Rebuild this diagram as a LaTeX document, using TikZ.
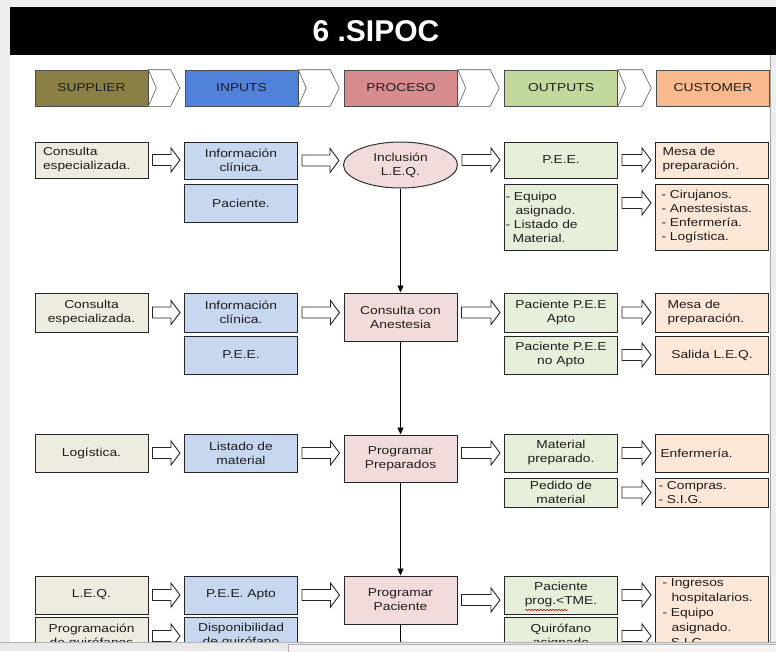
\documentclass[tikz,border=0pt]{standalone}
\usepackage{fontspec}
\newfontfamily\boxfont{Liberation Sans}[FakeStretch=1.2]
\newfontfamily\titlefont{Liberation Sans}
\usepackage{tikz}
\usetikzlibrary{positioning,arrows.meta,calc,shapes.geometric,decorations.pathmorphing}
\definecolor{pagegrey}{HTML}{EEEEEE}
\definecolor{inkgrey}{HTML}{1E1E1E}
\definecolor{hdrsup}{HTML}{8A7F45}
\definecolor{hdrinp}{HTML}{4F82D8}
\definecolor{hdrpro}{HTML}{D68C8C}
\definecolor{hdrout}{HTML}{C3D89B}
\definecolor{hdrcus}{HTML}{F8BA8C}
\definecolor{supfill}{HTML}{EEEBE0}
\definecolor{inpfill}{HTML}{C6D7EF}
\definecolor{procfill}{HTML}{F2DCDB}
\definecolor{outfill}{HTML}{E6EFDA}
\definecolor{custfill}{HTML}{FDE8D8}

\begin{document}
\begin{tikzpicture}[
    x=1pt, y=-1pt,
    box/.style={
      draw=black!85, line width=1pt, minimum width=113pt, inner sep=2pt,
      align=center, text=inkgrey, font=\boxfont\fontsize{11.5}{14}\selectfont
    },
    sup/.style={box, fill=supfill},
    inp/.style={box, fill=inpfill},
    proc/.style={box, fill=procfill},
    outp/.style={box, fill=outfill},
    cust/.style={box, fill=custfill},
    lft/.style={text width=#1, align=left},
    lft/.default=99pt,
    procell/.style={ellipse, draw=black!80, line width=1pt, fill=procfill, inner sep=0pt,
      minimum width=114pt, minimum height=46pt, align=center, text=inkgrey,
      font=\boxfont\fontsize{11.5}{14}\selectfont},
    hdr/.style={draw=black!70, line width=0.6pt, minimum width=113pt, minimum height=36pt,
      text=inkgrey, font=\boxfont\fontsize{11.5}{14}\selectfont},
    chev/.style={fill=white, draw=black!65, line width=0.6pt, line join=miter},
    blk/.style={fill=white, draw=black!85, line width=0.9pt, line join=miter,
      to path={let \p1=(\tikztostart), \p2=(\tikztotarget) in
        (\x1+4pt,\y1+5.5pt) -- (\x2-13pt,\y1+5.5pt) -- (\x2-13pt,\y1+12pt) -- (\x2-4pt,\y1)
        -- (\x2-13pt,\y1-12pt) -- (\x2-13pt,\y1-5.5pt) -- (\x1+4pt,\y1-5.5pt) -- cycle}},
    flow/.style={-{Triangle[length=7pt,width=6pt]}, line width=0.9pt, black},
    title/.style={text=white, font=\titlefont\bfseries\fontsize{30}{30}\selectfont}
  ]

  \useasboundingbox (0,0) rectangle (776,651);
  \fill[pagegrey] (0,0) rectangle (776,651);
  \fill[white] (10,7) rectangle (770,642);
  \draw[black!35, line width=0.6pt] (770.5,7) -- (770.5,642);

  % ---------- bandeau titre -------------
  \fill[black] (10,7) rectangle (776,55);
  \node[title] (ttl) at (376,31) {6 .SIPOC};

  % ---------- en-tetes S I P O C -------------
  \node[hdr, fill=hdrsup] (hsup) at (91.5,88) {SUPPLIER};
  \node[hdr, fill=hdrinp] (hinp) at (241.5,88) {INPUTS};
  \node[hdr, fill=hdrpro] (hpro) at (401,88) {PROCESO};
  \node[hdr, fill=hdrout] (hout) at (561,88) {OUTPUTS};
  \node[hdr, fill=hdrcus] (hcus) at (713,88) {CUSTOMER};
  \foreach \a/\b in {hsup/hinp, hinp/hpro, hpro/hout, hout/hcus}
    \draw[chev] let \p1=(\a.north east), \p2=(\b.south west), \p3=(\a.east) in
      (\x1,\y1) -- (\x2-14pt,\y1) -- (\x2-5pt,\y3) -- (\x2-14pt,\y2) -- (\x1,\y2)
      -- (\x1+8pt,\y3) -- cycle;

  \begin{scope}
    \clip (10,56) rectangle (770,642);

    % ---------- fila 1 : inclusion L.E.Q. -------------
    \node[sup, lft=97pt, minimum height=36pt] (s1) at (91.5,160) {Consulta\\especializada.};
    \node[inp, minimum height=37pt] (i1a) at (241,160.5) {Información\\clínica.};
    \node[inp, minimum height=38pt] (i1b) at (241,203) {Paciente.};
    \node[procell] (p1) at (400.5,165) {Inclusión\\L.E.Q.};
    \node[outp, minimum height=36pt] (o1a) at (561,160) {P.E.E.};
    \node[outp, lft=111pt, inner xsep=1pt, minimum height=66pt] (o1b) at (561,217)
      {- Equipo\\\hspace*{10pt}asignado.\\- Listado de\\\hspace*{7pt}Material.};
    \node[cust, lft=99pt, minimum height=36pt] (c1a) at (712,160) {Mesa de\\preparación.};
    \node[cust, lft=101pt, minimum height=66pt] (c1b) at (712,217)
      {- Cirujanos.\\- Anestesistas.\\- Enfermería.\\- Logística.};
    \draw[blk] (s1.east) to (i1a.west);
    \draw[blk] (i1a.east) to (p1.west);
    \draw[blk] (p1.east |- o1a.west) to (o1a.west);
    \draw[blk] (o1a.east) to (c1a.west);
    \draw[blk] ([yshift=14pt]o1b.east) to (c1b.west);

    % ---------- fila 2 : consulta con anestesia -------------
    \node[sup, minimum height=39pt] (s2) at (91.5,312.5) {Consulta\\especializada.};
    \node[inp, minimum height=39pt] (i2a) at (241,312.5) {Información\\clínica.};
    \node[inp, minimum height=38pt] (i2b) at (241,355) {P.E.E.};
    \node[proc, minimum height=48pt] (p2) at (400.5,317) {Consulta con\\Anestesia};
    \node[outp, minimum height=39pt] (o2a) at (561,312.5) {Paciente P.E.E\\Apto};
    \node[outp, minimum height=38pt] (o2b) at (561,355) {Paciente P.E.E\\no Apto};
    \node[cust, lft=89pt, minimum height=39pt] (c2a) at (712,312.5) {Mesa de\\preparación.};
    \node[cust, minimum height=38pt] (c2b) at (712,355) {Salida L.E.Q.};
    \draw[blk] (s2.east) to (i2a.west);
    \draw[blk] (i2a.east) to (p2.west);
    \draw[blk] (p2.east |- o2a.west) to (o2a.west);
    \draw[blk] (o2a.east) to (c2a.west);
    \draw[blk] (o2b.east) to (c2b.west);

    % ---------- fila 3 : programar preparados -------------
    \node[sup, minimum height=38pt] (s3) at (91.5,453) {Logística.};
    \node[inp, minimum height=38pt] (i3) at (241,453) {Listado de\\material};
    \node[proc, minimum height=47pt] (p3) at (400.5,458.5) {Programar\\Preparados};
    \node[outp, minimum height=38pt] (o3a) at (561,453) {Material\\preparado.};
    \node[outp, minimum height=29pt, inner ysep=0.5pt] (o3b) at (561,492.5) {Pedido de\\material};
    \node[cust, lft=103pt, minimum height=38pt] (c3a) at (712,453) {Enfermería.};
    \node[cust, lft=107pt, minimum height=29pt, inner ysep=0.5pt] (c3b) at (712,492.5) {- Compras.\\- S.I.G.};
    \draw[blk] (s3.east) to (i3.west);
    \draw[blk] (i3.east) to (p3.west);
    \draw[blk] (p3.east |- o3a.west) to (o3a.west);
    \draw[blk] (o3a.east) to (c3a.west);
    \draw[blk] (o3b.east) to (c3b.west);

    % ---------- fila 4 : programar paciente (cortada abajo) -------------
    \node[sup, minimum height=38pt] (s4a) at (91.5,595) {L.E.Q.};
    \node[sup, minimum height=38pt] (s4b) at (91.5,636) {Programación\\de quirófanos};
    \node[inp, minimum height=38pt] (i4a) at (241,595) {P.E.E. Apto};
    \node[inp, minimum height=38pt] (i4b) at (241,636) {Disponibilidad\\de quirófano};
    \node[proc, minimum height=48pt] (p4) at (400.5,600) {Programar\\Paciente};
    \node[outp, minimum height=38pt] (o4a) at (561,595) {Paciente\\prog.\textless TME.};
    \node[outp, minimum height=38pt] (o4b) at (561,636) {Quirófano\\asignado};
    \node[cust, lft=99pt, anchor=north, inner ysep=2pt,
          font=\boxfont\fontsize{11.5}{15}\selectfont] (c4) at (712,576)
      {- Ingresos\\\hspace*{9pt}hospitalarios.\\- Equipo\\\hspace*{9pt}asignado.\\- S.I.G.};
    \draw[red!80!black, line width=0.5pt, decorate,
          decoration={snake, amplitude=0.8pt, segment length=3pt}]
      ($(o4a.center)+(-36,15)$) -- ($(o4a.center)+(7,15)$);
    \draw[blk] (s4a.east) to (i4a.west);
    \draw[blk] (s4b.east) to (i4b.west);
    \draw[blk] (i4a.east) to (p4.west);
    \draw[blk] (p4.east) to (o4a.west);
    \draw[blk] (o4a.east) to (c4.west);
    \draw[blk] (o4b.east) to (c4.west);

    % ---------- flujo vertical del proceso -------------
    \coordinate (pend) at (400.5,660);
    \draw[flow] (p1.south) -- (p2.north);
    \draw[flow] (p2.south) -- (p3.north);
    \draw[flow] (p3.south) -- (p4.north);
    \draw[line width=0.9pt] (p4.south) -- (pend);
  \end{scope}

  % ---------- barra inferior de la ventana -------------
  \fill[black!9] (0,642) rectangle (776,651);
  \draw[black!30, line width=0.6pt] (0,642.3) -- (776,642.3);
  \filldraw[fill=black!4, draw=black!30, line width=0.6pt] (288,644) rectangle (777,652);

\end{tikzpicture}
\end{document}
